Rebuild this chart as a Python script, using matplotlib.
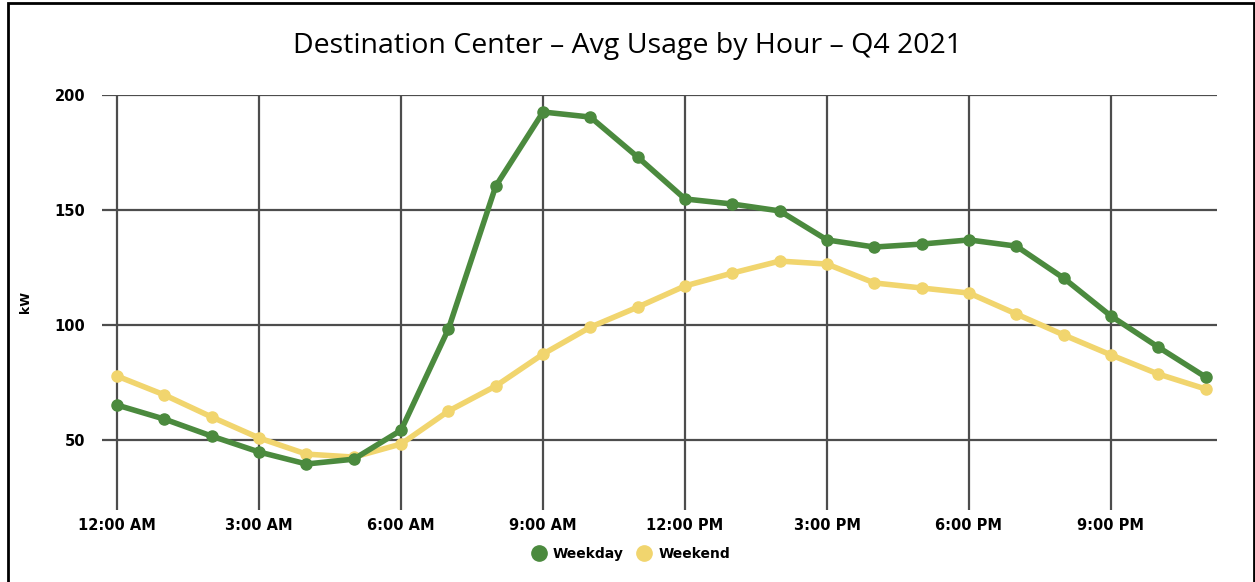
import matplotlib.pyplot as plt
from matplotlib.lines import Line2D
from matplotlib.patches import Rectangle

# hours of the day and tick labels
hours = list(range(24))
tick_hours = [0, 3, 6, 9, 12, 15, 18, 21]
tick_labels = ['12:00 AM', '3:00 AM', '6:00 AM', '9:00 AM', '12:00 PM', '3:00 PM', '6:00 PM', '9:00 PM']

# average usage in kW
weekday = [65.2, 59.1, 51.7, 44.8, 39.6, 41.7, 54.3, 98.3, 160.4, 192.6, 190.4, 173.0,
           154.8, 152.6, 149.6, 137.0, 133.9, 135.2, 137.0, 134.3, 120.4, 103.9, 90.4, 77.4]
weekend = [77.8, 69.6, 60.0, 50.9, 43.9, 42.6, 48.3, 62.6, 73.5, 87.4, 99.1, 107.8,
           117.0, 122.6, 127.8, 126.5, 118.3, 116.1, 113.9, 104.8, 95.7, 87.0, 78.7, 72.2]

green = '#4b8a3e'
yellow = '#f1d56e'

fig = plt.figure(figsize=(12.55, 5.82), dpi=100)
ax = fig.add_axes([0.0813, 0.1237, 0.8884, 0.7131])

# grid lines
for h in tick_hours:
    ax.axvline(h, color='#4d4d4d', linewidth=1.6, zorder=1)
for v in [50, 100, 150, 200]:
    ax.axhline(v, color='#4d4d4d', linewidth=1.6, zorder=1)

ax.plot(hours, weekday, color=green, linewidth=4, marker='o', markersize=8, zorder=3)
ax.plot(hours, weekend, color=yellow, linewidth=4, marker='o', markersize=8, zorder=2)

ax.set_xlim(-0.32, 23.24)
ax.set_ylim(19.6, 200)
for s in ax.spines.values():
    s.set_visible(False)
ax.set_xticks(tick_hours)
ax.set_xticklabels(tick_labels)
ax.set_yticks([50, 100, 150, 200])
ax.tick_params(axis='x', length=0, labelsize=10.5, pad=6)
ax.tick_params(axis='y', length=0, labelsize=10.5, pad=12)
for lab in ax.get_xticklabels() + ax.get_yticklabels():
    lab.set_fontweight('bold')
ax.set_ylabel('kW', fontsize=9, fontweight='bold')
ax.yaxis.set_label_coords(-0.063, 0.5)

fig.suptitle('Destination Center \u2013 Avg Usage by Hour \u2013 Q4 2021', y=0.945,
             fontsize=20.5, family='Open Sans')

handles = [Line2D([], [], color=green, marker='o', linestyle='none', markersize=11),
           Line2D([], [], color=yellow, marker='o', linestyle='none', markersize=11)]
fig.legend(handles, ['Weekday', 'Weekend'], loc='center', bbox_to_anchor=(0.5, 0.048),
           ncol=2, frameon=False, handletextpad=0.0, columnspacing=0.5,
           prop={'weight': 'bold', 'size': 10})

# frame around the whole picture
fig.patches.append(Rectangle((0.0064, -0.01), 0.9928, 1.005, transform=fig.transFigure,
                             fill=False, edgecolor='black', linewidth=2))

fig.savefig('out.png', dpi=100)
